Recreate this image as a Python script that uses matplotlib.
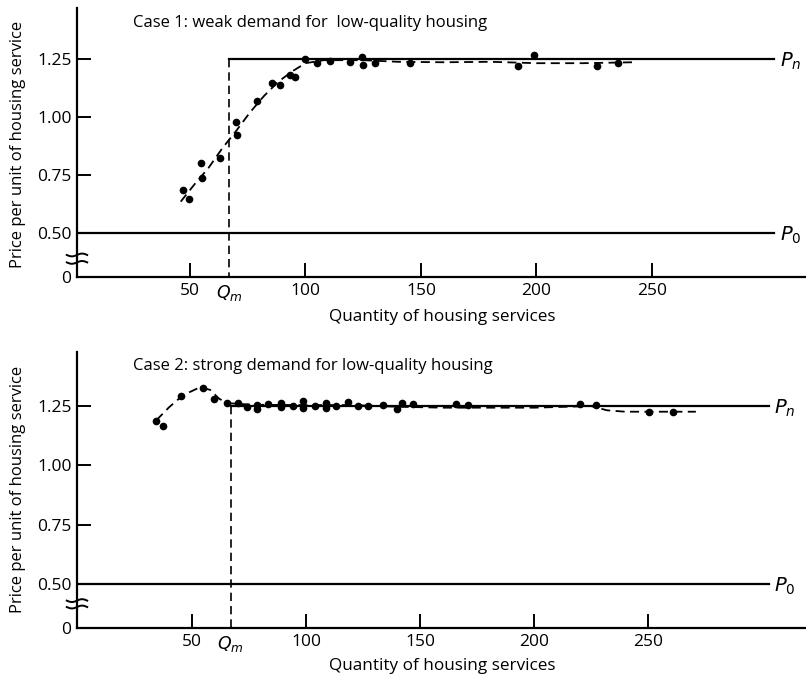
import numpy as np
import matplotlib
matplotlib.use('Agg')
import matplotlib.pyplot as plt
import matplotlib.transforms as mtransforms

plt.rcParams['font.family'] = ['Open Sans', 'DejaVu Sans']
plt.rcParams['mathtext.fontset'] = 'dejavusans'

# Reference prices and market quantity
p_n = 1.25
p_0 = 0.50
q_m = 67
q_end = 303

# Case 1: weak demand for low-quality housing (observed points)
case1_x = [47, 49.6, 54.8, 55.2, 63, 69.9, 70.2, 78.9, 85.4, 89, 93.3, 95.5,
           99.8, 104.8, 110.6, 119.3, 124.3, 125, 130, 145.2, 192.1, 199,
           226.3, 235.4]
case1_y = [0.685, 0.647, 0.803, 0.738, 0.825, 0.977, 0.922, 1.069, 1.148,
           1.138, 1.182, 1.171, 1.249, 1.231, 1.243, 1.238, 1.26, 1.224,
           1.231, 1.231, 1.221, 1.267, 1.22, 1.231]
# Case 1 fitted (dashed) curve
case1_fit_x = [46, 52, 58, 64, 70, 76, 82, 88, 94, 100, 108, 125, 140, 160,
               180, 200, 220, 242]
case1_fit_y = [0.635, 0.71, 0.78, 0.865, 0.94, 1.02, 1.09, 1.15, 1.195,
               1.232, 1.245, 1.245, 1.238, 1.236, 1.238, 1.232, 1.232, 1.236]

# Case 2: strong demand for low-quality housing (observed points)
case2_x = [34.2, 37.1, 45.2, 54.7, 59.8, 65.2, 70.3, 74.3, 78.4, 78.4, 83.2,
           89, 89, 94.2, 98.5, 98.5, 104, 108.8, 108.8, 113.4, 118.6, 122.9,
           127.3, 133.9, 139.8, 142, 147, 166, 171.2, 220.2, 227.2, 250.6,
           261.1]
case2_y = [1.188, 1.167, 1.293, 1.327, 1.278, 1.264, 1.264, 1.244, 1.254,
           1.239, 1.258, 1.264, 1.245, 1.25, 1.271, 1.24, 1.25, 1.264, 1.24,
           1.25, 1.268, 1.25, 1.25, 1.254, 1.238, 1.264, 1.258, 1.258, 1.254,
           1.258, 1.254, 1.226, 1.226]
# Case 2 fitted (dashed) curve
case2_fit_x = [34.4, 40, 46, 53.5, 58, 62, 66, 72, 80, 100, 120, 140, 160,
               180, 200, 215, 225, 232, 240, 271]
case2_fit_y = [1.19, 1.245, 1.295, 1.329, 1.318, 1.28, 1.262, 1.258, 1.255,
               1.254, 1.254, 1.247, 1.243, 1.243, 1.243, 1.247, 1.25, 1.232,
               1.226, 1.226]

panels = [
    dict(title='Case 1: weak demand for  low-quality housing',
         x=case1_x, y=case1_y, fx=case1_fit_x, fy=case1_fit_y,
         rect=[77/806, 1-277/677, 729/806, 269/677],
         xlim=(1.1, 316.7), ylim=(0.31, 1.47), brk=(0.405, 0.373),
         title_y=1-23/677, xlabel_y=1-317/677, ylabel_y=1-144/677),
    dict(title='Case 2: strong demand for low-quality housing',
         x=case2_x, y=case2_y, fx=case2_fit_x, fy=case2_fit_y,
         rect=[77/806, 1-628/677, 729/806, 276/677],
         xlim=(-0.4, 319.3), ylim=(0.3146, 1.4776), brk=(0.43, 0.403),
         title_y=1-366/677, xlabel_y=1-666/677, ylabel_y=1-489/677),
]

fig = plt.figure(figsize=(8.06, 6.77), dpi=100)

for p in panels:
    ax = fig.add_axes(p['rect'])
    ax.set_xlim(*p['xlim'])
    ax.set_ylim(*p['ylim'])
    for s in ['top', 'right']:
        ax.spines[s].set_visible(False)
    for s in ['left', 'bottom']:
        ax.spines[s].set_linewidth(1.6)

    # reference price lines
    ax.plot([q_m, q_end], [p_n, p_n], color='black', lw=1.6)
    ax.plot([p['xlim'][0], q_end], [p_0, p_0], color='black', lw=1.6)
    ax.plot([q_m, q_m], [p_n, p['ylim'][0]], color='black', lw=1.2,
            dashes=(5, 3))

    # fitted curve and observations
    ax.plot(p['fx'], p['fy'], color='black', lw=1.3, dashes=(5, 3))
    ax.plot(p['x'], p['y'], 'o', color='black', ms=4.5)

    ax.annotate('$P_n$', xy=(q_end, p_n), xytext=(4, -2),
                textcoords='offset points', va='center', ha='left',
                fontsize=14, annotation_clip=False)
    ax.annotate('$P_0$', xy=(q_end, p_0), xytext=(4, -2),
                textcoords='offset points', va='center', ha='left',
                fontsize=14, annotation_clip=False)

    ax.set_yticks([p['ylim'][0], 0.5, 0.75, 1.0, 1.25])
    ax.set_yticklabels(['0', '0.50', '0.75', '1.00', '1.25'])
    ax.set_xticks([50, q_m, 100, 150, 200, 250])
    ax.set_xticklabels(['50', '$Q_m$', '100', '150', '200', '250'])
    ax.tick_params(direction='in', length=10, width=1.4, labelsize=12.5,
                   pad=4)
    ax.xaxis.get_major_ticks()[1].tick1line.set_visible(False)

    # axis break marks on the y-axis
    trans = mtransforms.blended_transform_factory(ax.transAxes, ax.transData)
    bx = np.linspace(-0.014, 0.014, 30)
    amp = 0.006
    for by in p['brk']:
        ax.plot(bx, by + amp * np.sin(bx / 0.014 * np.pi), color='black',
                lw=1.4, transform=trans, clip_on=False)

    fig.text(133/806, p['title_y'], p['title'], fontsize=12, va='center',
             ha='left')
    fig.text(442/806, p['xlabel_y'], 'Quantity of housing services',
             fontsize=12.3, va='center', ha='center')
    fig.text(18/806, p['ylabel_y'], 'Price per unit of housing service',
             fontsize=12, va='center', ha='center', rotation=90)

fig.savefig('out.png', dpi=100, facecolor='white')
